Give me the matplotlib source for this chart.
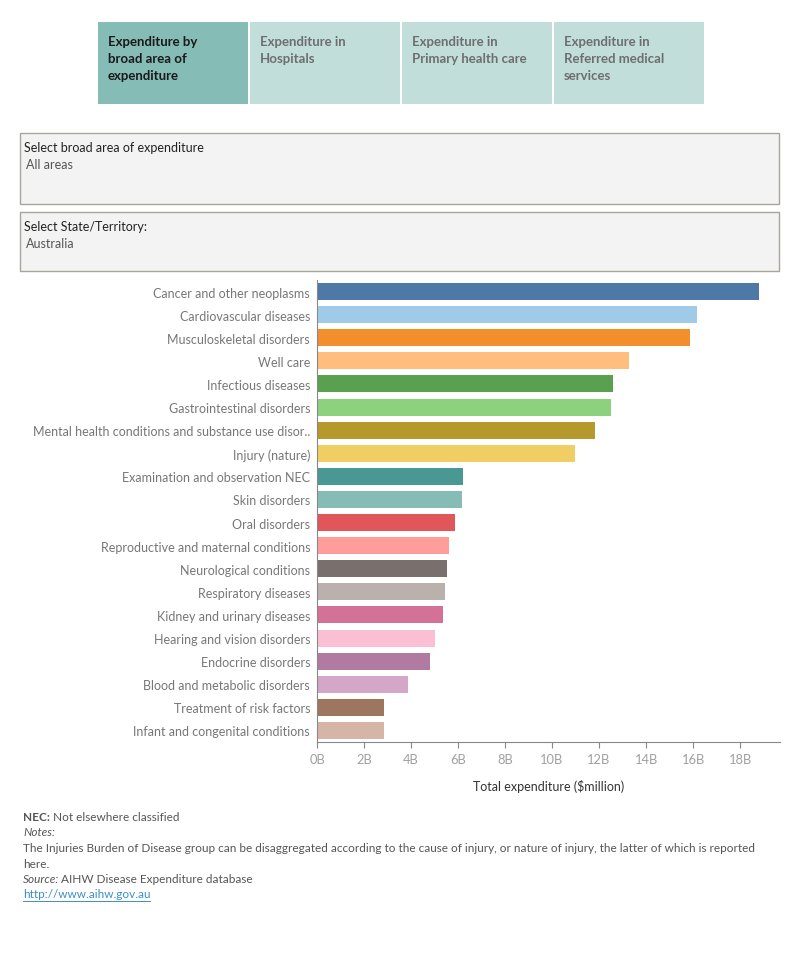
import matplotlib.pyplot as plt
from matplotlib.patches import Rectangle
from matplotlib.ticker import FuncFormatter

plt.rcParams['font.family'] = ['Lato', 'DejaVu Sans']

# data (values in $million)
categories = [
    'Cancer and other neoplasms', 'Cardiovascular diseases', 'Musculoskeletal disorders',
    'Well care', 'Infectious diseases', 'Gastrointestinal disorders',
    'Mental health conditions and substance use disor..', 'Injury (nature)',
    'Examination and observation NEC', 'Skin disorders', 'Oral disorders',
    'Reproductive and maternal conditions', 'Neurological conditions',
    'Respiratory diseases', 'Kidney and urinary diseases', 'Hearing and vision disorders',
    'Endocrine disorders', 'Blood and metabolic disorders', 'Treatment of risk factors',
    'Infant and congenital conditions',
]
values = [18800, 16160, 15860, 13260, 12580, 12500, 11820, 10970, 6230, 6150,
          5860, 5600, 5520, 5430, 5350, 5000, 4800, 3860, 2840, 2840]
colors = ['#4e79a7', '#a0cbe8', '#f28e2b', '#ffbe7d', '#59a14f', '#8cd17d', '#b6992d',
          '#f1ce63', '#499894', '#86bcb6', '#e15759', '#ff9d9a', '#79706e', '#bab0ac',
          '#d37295', '#fabfd2', '#b07aa1', '#d4a6c8', '#9d7660', '#d7b5a6']
tabs = ['Expenditure by\nbroad area of\nexpenditure', 'Expenditure in\nHospitals',
        'Expenditure in\nPrimary health care', 'Expenditure in\nReferred medical\nservices']
xticks = [0, 2000, 4000, 6000, 8000, 10000, 12000, 14000, 16000, 18000]

W, H = 800, 970
fig = plt.figure(figsize=(W / 100, H / 100), dpi=100)


def fx(x):
    return x / W


def fy(y):
    return 1 - y / H


# tab buttons across the top
for i, t in enumerate(tabs):
    x0 = 98 + i * 152
    active = i == 0
    fig.patches.append(Rectangle((fx(x0), fy(105)), 150 / W, 82 / H,
                                 transform=fig.transFigure,
                                 facecolor='#86bcb6' if active else '#c2dedb',
                                 edgecolor='none'))
    fig.text(fx(x0 + 10), fy(35.5), t, ha='left', va='top', fontsize=9.5,
             fontweight='bold', color='#1a1a1a' if active else '#6e6e6e',
             linespacing=1.55)

# filter boxes
for (y0, y1, title, val) in [(134, 205, 'Select broad area of expenditure', 'All areas'),
                             (213, 272, 'Select State/Territory:', 'Australia')]:
    fig.patches.append(Rectangle((fx(20), fy(y1)), 759 / W, (y1 - y0) / H,
                                 transform=fig.transFigure, facecolor='#f3f3f3',
                                 edgecolor='#a8a59c', linewidth=1))
    fig.text(fx(24), fy(y0 + 14), title, ha='left', va='center', fontsize=9,
             color='#222222')
    fig.text(fx(26), fy(y0 + 31), val, ha='left', va='center', fontsize=9,
             color='#555555')

# bar chart
ax = fig.add_axes([fx(317), fy(743), (780 - 317) / W, (743 - 281) / H])
ypos = list(range(len(categories)))
ax.barh(ypos, values, color=colors, height=0.74)
ax.set_ylim(len(categories) - 0.5, -0.5)
ax.set_xlim(0, 19700)
ax.set_yticks(ypos)
ax.set_yticklabels(categories, fontsize=9, color='#777777')
ax.set_xticks(xticks)
ax.xaxis.set_major_formatter(FuncFormatter(lambda v, p: f'{int(v / 1000)}B'))
ax.tick_params(axis='x', labelsize=9.3, labelcolor='#a0a0a0', length=4, color='#888888', pad=4)
ax.tick_params(axis='y', length=0, pad=5)
for s in ['top', 'right']:
    ax.spines[s].set_visible(False)
ax.spines['left'].set_color('#888888')
ax.spines['bottom'].set_color('#888888')
ax.set_xlabel('Total expenditure ($million)', fontsize=9, color='#333333', labelpad=10)

# footnotes
fs = 8.5
grey = '#555555'
fig.text(fx(23), fy(818), 'NEC:', ha='left', va='center', fontsize=fs, color=grey,
         fontweight='bold')
fig.text(fx(53), fy(818), 'Not elsewhere classified', ha='left', va='center', fontsize=fs,
         color=grey)
fig.text(fx(23), fy(833), 'Notes:', ha='left', va='center', fontsize=fs, color=grey,
         style='italic')
fig.text(fx(23), fy(849), 'The Injuries Burden of Disease group can be disaggregated according to '
         'the cause of injury, or nature of injury, the latter of which is reported',
         ha='left', va='center', fontsize=fs, color=grey)
fig.text(fx(23), fy(864), 'here.', ha='left', va='center', fontsize=fs, color=grey)
fig.text(fx(23), fy(880), 'Source:', ha='left', va='center', fontsize=fs, color=grey,
         style='italic')
fig.text(fx(61), fy(880), 'AIHW Disease Expenditure database', ha='left', va='center',
         fontsize=fs, color=grey)
fig.text(fx(23), fy(895), 'http://www.aihw.gov.au', ha='left', va='center',
         fontsize=fs, color='#3d8fc6')
fig.lines.append(plt.Line2D([fx(23), fx(150)], [fy(902), fy(902)],
                            transform=fig.transFigure, color='#3d8fc6', linewidth=0.7))

fig.savefig('out.png', dpi=100)
